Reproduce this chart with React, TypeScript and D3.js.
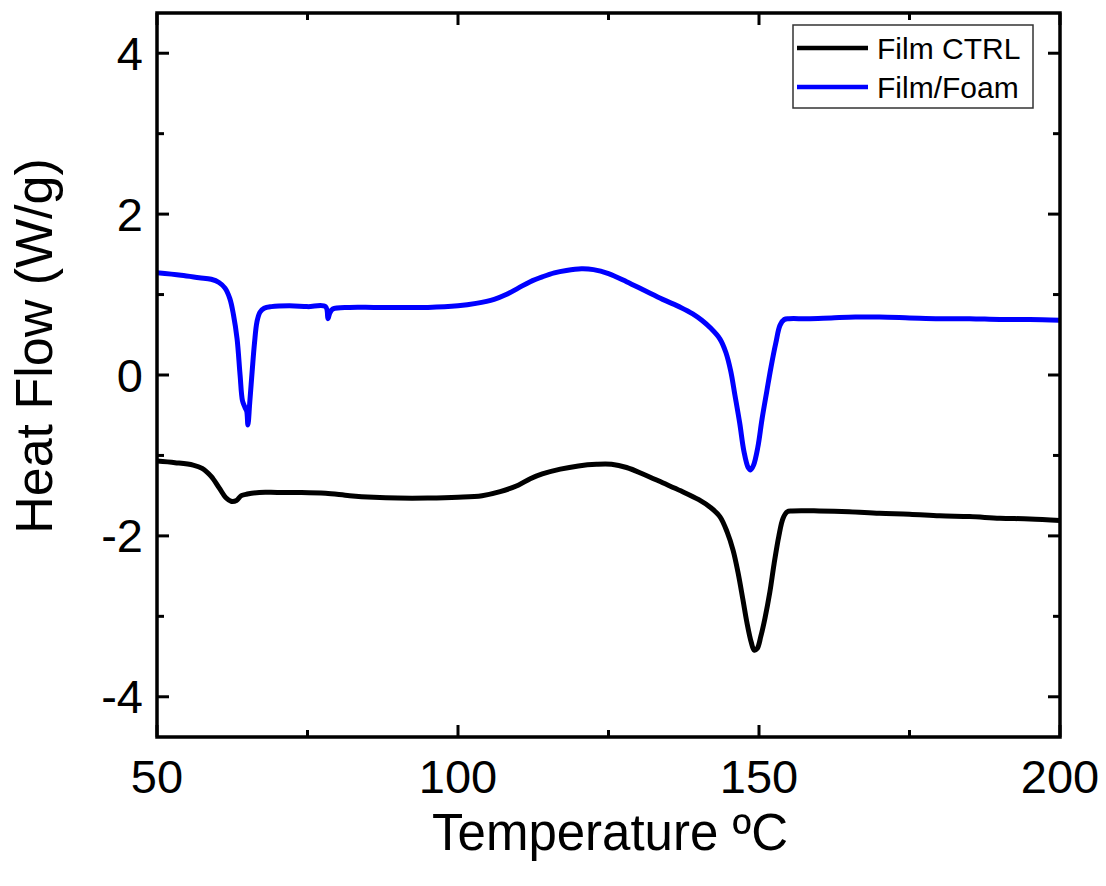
import React from "react";
import * as d3 from "d3";

const xTicksMajor = [50, 100, 150, 200];
const xTicksMinor = [75, 125, 175];
const yTicksMajor = [-4, -2, 0, 2, 4];
const yTicksMinor = [-3, -1, 1, 3];

const seriesNames = ["Film CTRL", "Film/Foam"];
const seriesColors = ["#000000", "#0000ff"];

const filmCtrl: [number, number][] = [
  [50, -1.07], [53, -1.09], [56, -1.12], [57.5, -1.16], [59, -1.26], [60.3, -1.4], [61.5, -1.53], [62.3, -1.57],
  [63.2, -1.56], [64, -1.5], [65, -1.48], [67, -1.46], [70, -1.46], [74, -1.46], [78, -1.47], [82, -1.5],
  [86, -1.52], [90, -1.53], [95, -1.53], [100, -1.52], [104, -1.5], [107, -1.45], [110, -1.37], [112, -1.29],
  [114, -1.23], [117, -1.17], [120, -1.13], [123, -1.11], [125.5, -1.11], [128, -1.15], [131, -1.24], [134, -1.34],
  [137, -1.44], [140, -1.55], [142, -1.65], [143.5, -1.76], [144.7, -1.95], [145.7, -2.18], [146.5, -2.45],
  [147.3, -2.78], [148, -3.08], [148.7, -3.32], [149.2, -3.42], [149.7, -3.4], [150.3, -3.25], [151, -3.02],
  [151.8, -2.7], [152.5, -2.35], [153.3, -2.0], [154, -1.78], [154.7, -1.7], [155.5, -1.69], [160, -1.69],
  [165, -1.7], [170, -1.72], [175, -1.73], [180, -1.75], [185, -1.76], [190, -1.78], [195, -1.79], [200, -1.81],
];

const filmFoam: [number, number][] = [
  [50, 1.27], [54, 1.24], [57, 1.21], [59, 1.19], [60.3, 1.15], [61.3, 1.08], [62.1, 0.95], [62.7, 0.75],
  [63.3, 0.45], [63.8, 0.0], [64.2, -0.32], [64.6, -0.4], [64.9, -0.45], [65.1, -0.62], [65.4, -0.35],
  [65.8, 0.04], [66.2, 0.4], [66.6, 0.66], [67.1, 0.78], [67.8, 0.83], [69, 0.85], [72, 0.86], [75, 0.85],
  [78, 0.85], [78.4, 0.7], [78.7, 0.77], [79.2, 0.82], [82, 0.84], [86, 0.84], [90, 0.84], [95, 0.84],
  [100, 0.86], [103, 0.89], [106, 0.94], [108, 1.0], [110, 1.08], [112, 1.16], [114, 1.22], [116, 1.27],
  [118, 1.3], [120.5, 1.32], [122.5, 1.31], [125, 1.26], [128, 1.16], [131, 1.05], [134, 0.94], [137, 0.84],
  [139, 0.76], [140.5, 0.68], [142, 0.58], [143.5, 0.45], [144.5, 0.28], [145.3, 0.05], [146, -0.25],
  [146.8, -0.6], [147.5, -0.95], [148.2, -1.15], [148.6, -1.18], [149.1, -1.12], [149.8, -0.9], [150.5, -0.55],
  [151.3, -0.2], [152, 0.1], [152.8, 0.4], [153.5, 0.62], [154.2, 0.69], [155, 0.7], [158, 0.7], [162, 0.71],
  [166, 0.72], [170, 0.72], [175, 0.71], [180, 0.7], [185, 0.7], [190, 0.69], [195, 0.69], [200, 0.68],
];

const W = 1106;
const H = 886;
const L = 157, R = 1060, T = 13, B = 737;
const FONT = "'Liberation Sans', Arial, sans-serif";

export default function App() {
  const x = d3.scaleLinear().domain([50, 200]).range([L, R]);
  const y = d3.scaleLinear().domain([-4.5, 4.5]).range([B, T]);
  const line = d3
    .line<[number, number]>()
    .x((d) => x(d[0]))
    .y((d) => y(d[1]))
    .curve(d3.curveCatmullRom.alpha(0.5));
  const data = [filmCtrl, filmFoam];
  const major = 12, minor = 7;

  return (
    <svg width={W} height={H} style={{ position: "absolute", left: 0, top: 0, background: "#fff" }} fontFamily={FONT}>
      <rect x={0} y={0} width={W} height={H} fill="#fff" />
      <defs>
        <clipPath id="plot">
          <rect x={L} y={T} width={R - L} height={B - T} />
        </clipPath>
      </defs>
      <g clipPath="url(#plot)">
        {data.map((d, i) => (
          <path key={i} d={line(d) || ""} fill="none" stroke={seriesColors[i]} strokeWidth={5} strokeLinejoin="round" strokeLinecap="round" />
        ))}
      </g>
      <g stroke="#000" strokeWidth={3}>
        {xTicksMajor.map((t) => (
          <g key={"xm" + t}>
            <line x1={x(t)} x2={x(t)} y1={B} y2={B - major} />
            <line x1={x(t)} x2={x(t)} y1={T} y2={T + major} />
          </g>
        ))}
        {xTicksMinor.map((t) => (
          <g key={"xn" + t}>
            <line x1={x(t)} x2={x(t)} y1={B} y2={B - minor} />
            <line x1={x(t)} x2={x(t)} y1={T} y2={T + minor} />
          </g>
        ))}
        {yTicksMajor.map((t) => (
          <g key={"ym" + t}>
            <line x1={L} x2={L + major} y1={y(t)} y2={y(t)} />
            <line x1={R} x2={R - major} y1={y(t)} y2={y(t)} />
          </g>
        ))}
        {yTicksMinor.map((t) => (
          <g key={"yn" + t}>
            <line x1={L} x2={L + minor} y1={y(t)} y2={y(t)} />
            <line x1={R} x2={R - minor} y1={y(t)} y2={y(t)} />
          </g>
        ))}
      </g>
      <rect x={L} y={T} width={R - L} height={B - T} fill="none" stroke="#000" strokeWidth={3.5} />
      {xTicksMajor.map((t) => (
        <text key={"xl" + t} x={x(t)} y={793} textAnchor="middle" fontSize={47} fill="#000">
          {t}
        </text>
      ))}
      {yTicksMajor.map((t) => (
        <text key={"yl" + t} x={143} y={y(t)} textAnchor="end" dominantBaseline="central" fontSize={47} fill="#000">
          {t}
        </text>
      ))}
      <text x={610} y={850} textAnchor="middle" fontSize={51} fill="#000">
        Temperature ºC
      </text>
      <text transform={`translate(52,346) rotate(-90)`} textAnchor="middle" fontSize={52} fill="#000">
        Heat Flow (W/g)
      </text>
      <rect x={793} y={25} width={240} height={83} fill="#fff" stroke="#333" strokeWidth={1.5} />
      {seriesNames.map((n, i) => (
        <g key={n}>
          <line x1={797} x2={868} y1={48 + i * 39} y2={48 + i * 39} stroke={seriesColors[i]} strokeWidth={4.5} />
          <text x={877} y={48 + i * 39} dominantBaseline="central" fontSize={30} fill="#000">
            {n}
          </text>
        </g>
      ))}
    </svg>
  );
}
